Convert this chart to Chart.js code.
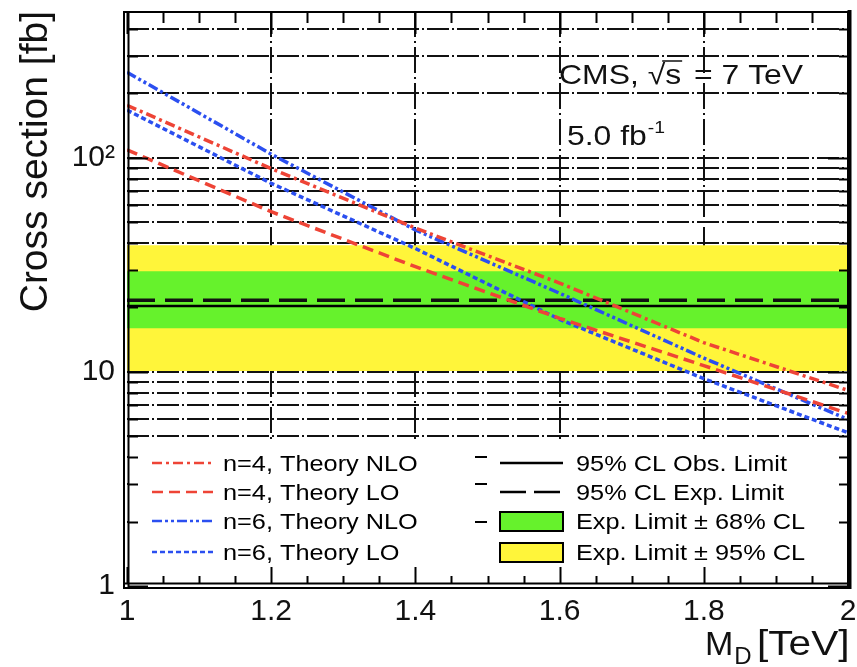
<!DOCTYPE html>
<html><head><meta charset="utf-8">
<script src="https://cdn.jsdelivr.net/npm/chart.js@4/dist/chart.umd.min.js"></script>
<style>html,body{margin:0;padding:0;background:#fff;}canvas{display:block;}</style>
</head><body>
<canvas id="c" width="857" height="667"></canvas>
<script>
// ---- data ----
const massTeV = [1.0, 1.2, 1.4, 1.6, 1.8, 2.0];
const n4NLO = [176, 89, 47, 26, 13.7, 8.2];
const n4LO  = [109, 56, 31, 17.8, 10.7, 6.4];
const n6NLO = [251, 104, 46, 23.3, 11.6, 6.0];
const n6LO  = [167, 76, 37.7, 17.6, 9.3, 5.2];
const limitX = [1.0, 2.0];
const observedLimit = [20.3, 20.3];
const expectedLimit = [21.6, 21.6];
const band68Low  = [16.0, 16.0];
const band68High = [29.5, 29.5];
const band95Low  = [10.1, 10.1];
const band95High = [39.0, 39.0];
const xTickValues = [1, 1.2, 1.4, 1.6, 1.8, 2];
const xTickLabels = ['1', '1.2', '1.4', '1.6', '1.8', '2'];
const yTickValues = [1, 10, 100];
const yTickLabels = ['1', '10', '10\u00b2'];
const seriesLabels = ['n=4, Theory NLO', 'n=4, Theory LO', 'n=6, Theory NLO', 'n=6, Theory LO'];
const limitLabels = ['95% CL Obs. Limit', '95% CL Exp. Limit', 'Exp. Limit \u00b1 68% CL', 'Exp. Limit \u00b1 95% CL'];
const yAxisTitle = 'Cross section [fb]';
const xAxisTitle = ['M', 'D', '[TeV]'];
const cmsText = ['CMS, \u221a', 's', ' = 7 TeV'];
const lumiText = ['5.0 fb', '-1'];

// ---- styling ----
const FONT = '"Liberation Sans", Arial, Helvetica, sans-serif';
const RED = '#ee4436', BLUE = '#2b4ff0', YEL = '#fff53a', GRN = '#66f22c';
const pts = (xs, ys) => xs.map((x, i) => ({x: x, y: ys[i]}));
const line = (label, data, color, dash, w) => ({label, data, borderColor: color, borderDash: dash,
  borderWidth: w, pointRadius: 0, fill: false, tension: 0});
const band = (label, data, color, target) => ({label, data, borderWidth: 0, borderColor: 'rgba(0,0,0,0)',
  backgroundColor: color || 'rgba(0,0,0,0)', fill: target === undefined ? false : target, pointRadius: 0});

const datasets = [
  line(seriesLabels[0], pts(massTeV, n4NLO), RED, [10, 4, 3, 4], 3.5),
  line(seriesLabels[1], pts(massTeV, n4LO), RED, [11, 6], 3.5),
  line(seriesLabels[2], pts(massTeV, n6NLO), BLUE, [10, 3, 3, 3, 3, 3], 3.5),
  line(seriesLabels[3], pts(massTeV, n6LO), BLUE, [5, 3], 3.5),
  line(limitLabels[0], pts(limitX, observedLimit), '#000', [], 2.5),
  line(limitLabels[1], pts(limitX, expectedLimit), '#111', [28, 10], 3.5),
  band(limitLabels[2], pts(limitX, band68High), GRN, 7),
  band('68low', pts(limitX, band68Low)),
  band(limitLabels[3], pts(limitX, band95High), YEL, 9),
  band('95low', pts(limitX, band95Low))
];

function stext(ctx, s, x, y, size, sx) {
  ctx.save(); ctx.translate(x, y); ctx.scale(sx, 1);
  ctx.font = size + 'px ' + FONT; ctx.fillText(s, 0, 0);
  const w = ctx.measureText(s).width * sx; ctx.restore(); return w;
}
function seg(ctx, x1, y1, x2, y2) { ctx.beginPath(); ctx.moveTo(x1, y1); ctx.lineTo(x2, y2); ctx.stroke(); }

function logMinors(max) {
  const out = [];
  for (let d = 1; d <= max; d *= 10) for (let m = 1; m <= 9; m++) if (m * d <= max) out.push(m * d);
  return out;
}

const deco = {
  id: 'deco',
  beforeDatasetsDraw(chart) {
    const {ctx, chartArea: a, scales: {x, y}} = chart;
    ctx.save();
    ctx.beginPath(); ctx.rect(a.left, a.top, a.right - a.left, a.bottom - a.top); ctx.clip();
    ctx.strokeStyle = '#111'; ctx.lineWidth = 2;
    ctx.setLineDash([22, 3, 2, 3]);
    logMinors(y.max).forEach(v => { if (v > 1) { const p = Math.round(y.getPixelForValue(v)); seg(ctx, a.left, p, a.right, p); } });
    ctx.setLineDash([26, 4, 2, 4]);
    xTickValues.slice(1, -1).forEach(v => { const p = Math.round(x.getPixelForValue(v)); seg(ctx, p, a.top, p, a.bottom); });
    ctx.restore();
  },
  afterDatasetsDraw(chart) {
    const {ctx, chartArea: a, scales: {x, y}} = chart;
    const ds = chart.data.datasets;
    const B = a.bottom, T = a.top, L = a.left, R = a.right;
    ctx.save();
    // legend box
    ctx.fillStyle = '#fff';
    ctx.fillRect(L + 2, 442, R - L - 4, B - 442 - 3);
    const rows = [463, 492, 521, 552];
    ctx.fillStyle = '#000'; ctx.textBaseline = 'alphabetic';
    for (let i = 0; i < 4; i++) {
      ctx.strokeStyle = ds[i].borderColor; ctx.lineWidth = 2.5; ctx.setLineDash(ds[i].borderDash);
      seg(ctx, 152, rows[i], 213, rows[i]);
      ctx.setLineDash([]);
      stext(ctx, seriesLabels[i], 223, rows[i] + 8, 22, 1.15);
    }
    for (let i = 0; i < 2; i++) {
      ctx.strokeStyle = '#000'; ctx.lineWidth = 2.5; ctx.setLineDash(i === 0 ? [] : [26, 8]);
      seg(ctx, 500, rows[i], 563, rows[i]);
    }
    ctx.setLineDash([]);
    [[6, rows[2]], [8, rows[3]]].forEach(([k, ry]) => {
      ctx.fillStyle = ds[k].backgroundColor; ctx.fillRect(500, ry - 9, 63, 19);
      ctx.strokeStyle = '#000'; ctx.lineWidth = 2; ctx.strokeRect(500, ry - 9, 63, 19);
    });
    ctx.fillStyle = '#000';
    for (let i = 0; i < 4; i++) stext(ctx, limitLabels[i], 576, rows[i] + 8, 22, 1.15);
    ctx.lineWidth = 2;
    [2, 3, 4].forEach(v => { const p = Math.round(y.getPixelForValue(v)); seg(ctx, 475, p, 487, p); });

    // frame
    ctx.strokeStyle = '#000'; ctx.lineWidth = 2; ctx.setLineDash([]);
    ctx.strokeRect(L - 3, T + 1, R - L + 3, B - T + 1);
    seg(ctx, L + 1.5, T + 1, L + 1.5, B + 1);
    seg(ctx, L - 3, B - 2.5, R, B - 2.5);
    ctx.lineWidth = 4; seg(ctx, R + 1.5, T - 1, R + 1.5, B + 3);
    // x ticks
    ctx.lineWidth = 2;
    for (let i = 0; i <= 20; i++) {
      const v = 1 + i * 0.05, p = Math.round(x.getPixelForValue(v)) + 0.5, major = i % 4 === 0;
      seg(ctx, p, T + 1, p, T + 1 + (major ? 22 : 11));
      seg(ctx, p, B - 2, p, B - 2 - (major ? 17 : 8));
    }
    // y ticks
    logMinors(y.max).forEach(v => {
      const p = Math.round(y.getPixelForValue(v)) + 0.5;
      const major = yTickValues.includes(v);
      seg(ctx, L + 1, p, L + 1 + (major ? 20 : 10), p);
      seg(ctx, R, p, R - (major ? 20 : 9), p);
    });

    // annotations
    ctx.fillStyle = '#111';
    const sx = 1.14, fs = 28;
    const w1 = stext(ctx, cmsText[0], 559, 84, fs, sx);
    const w2 = stext(ctx, cmsText[1], 559 + w1, 84, fs, sx);
    stext(ctx, cmsText[2], 559 + w1 + w2 + 4, 84, fs, sx);
    ctx.strokeStyle = '#111'; ctx.lineWidth = 1.5;
    seg(ctx, 559 + w1 - 3, 61, 559 + w1 + w2 + 1, 61);
    const w3 = stext(ctx, lumiText[0], 567, 145, fs, sx);
    stext(ctx, lumiText[1], 567 + w3 + 1, 133, 17, sx);

    // x axis title
    const m = stext(ctx, xAxisTitle[0], 705, 655, 34, 1.0);
    stext(ctx, xAxisTitle[1], 705 + m + 1, 664, 24, 1.0);
    stext(ctx, xAxisTitle[2], 757, 655, 35, 1.16);
    ctx.restore();
  }
};

new Chart(document.getElementById('c'), {
  type: 'line',
  data: {datasets},
  plugins: [deco],
  options: {
    responsive: false, animation: false, events: [],
    layout: {padding: {top: 11, right: 9, left: 0, bottom: 0}},
    plugins: {legend: {display: false}, tooltip: {enabled: false}},
    scales: {
      x: {
        type: 'linear', min: 1, max: 2,
        grid: {display: false, drawTicks: false}, border: {display: false},
        afterBuildTicks: s => { s.ticks = xTickValues.map(v => ({value: v})); },
        ticks: {callback: (v, i) => xTickLabels[i], font: {family: FONT, size: 30}, color: '#111',
                padding: 8, maxRotation: 0, autoSkip: false},
        afterFit: s => { s.height = 81; s.paddingLeft = 0; s.paddingRight = 0; }
      },
      y: {
        type: 'logarithmic', min: 1, max: 485,
        grid: {display: false, drawTicks: false}, border: {display: false},
        afterBuildTicks: s => { s.ticks = yTickValues.map(v => ({value: v})); },
        ticks: {callback: (v, i) => yTickLabels[i], font: {family: FONT, size: 30}, color: '#111',
                padding: 12, autoSkip: false},
        title: {display: true, text: yAxisTitle, font: {family: FONT, size: 39}, color: '#111',
                align: 'end', padding: {top: 13, bottom: 0}},
        afterFit: s => { s.width = 127; s.paddingTop = 0; s.paddingBottom = 0; }
      }
    }
  }
});
</script>
</body></html>
